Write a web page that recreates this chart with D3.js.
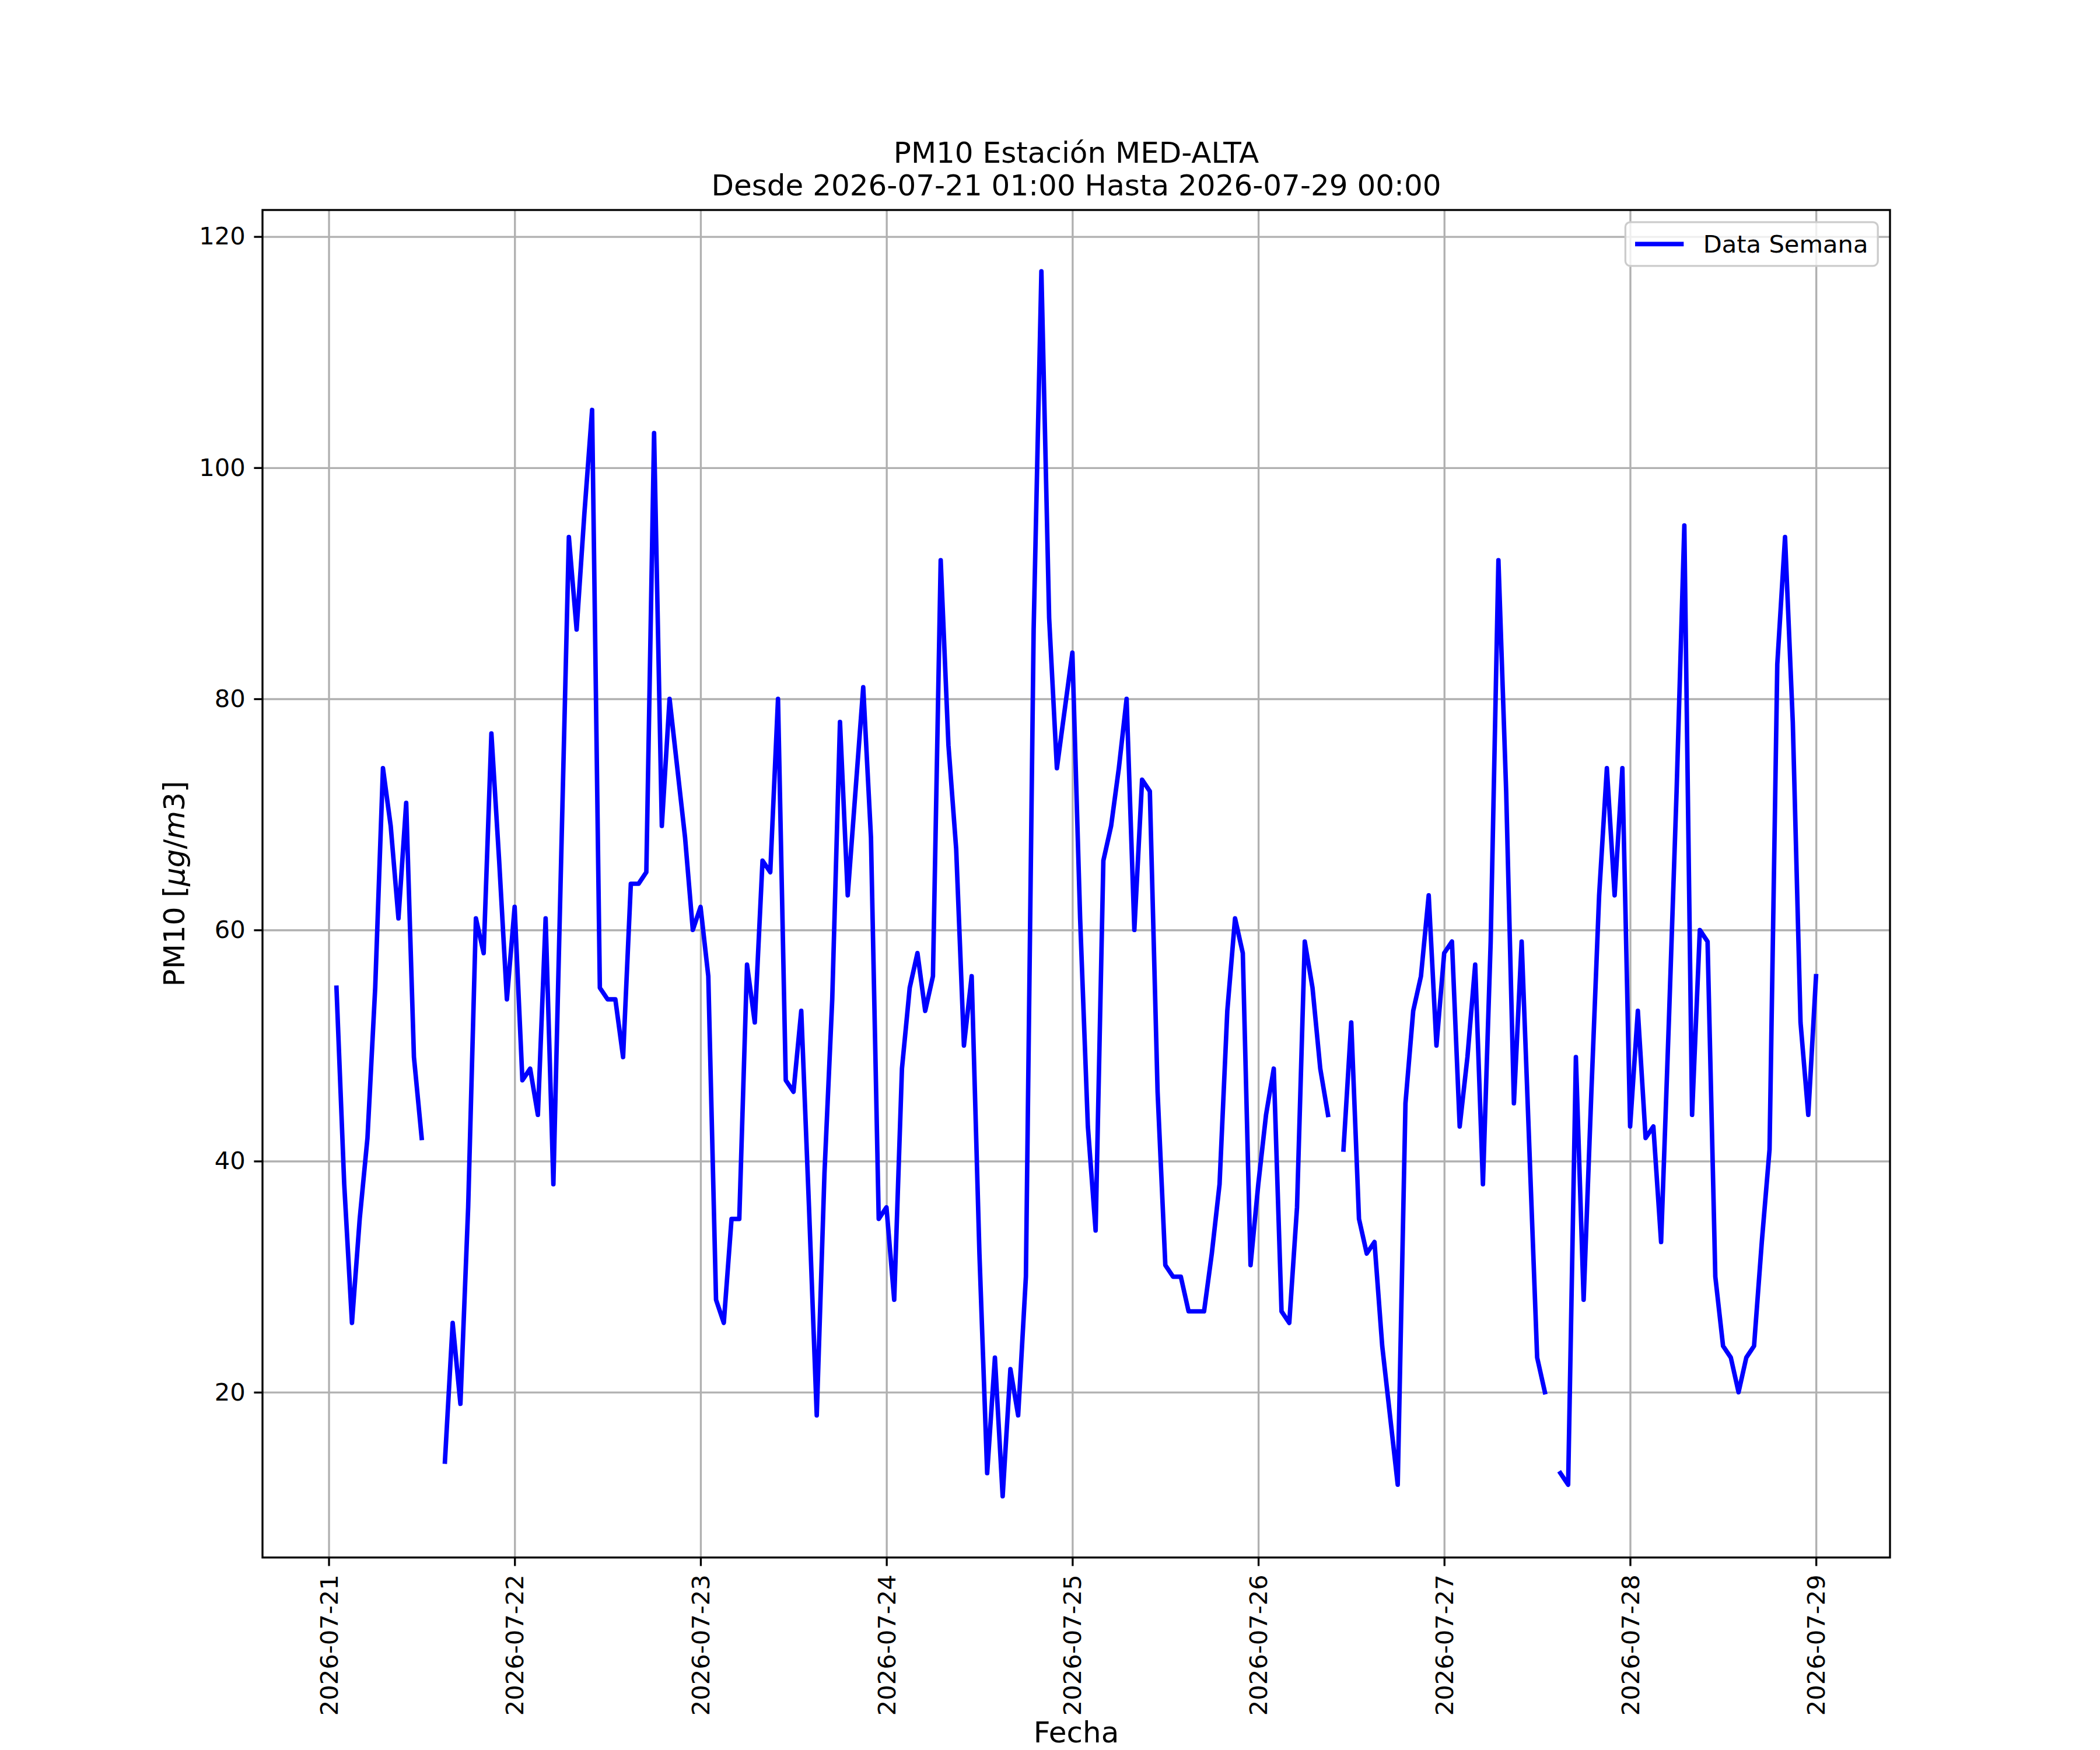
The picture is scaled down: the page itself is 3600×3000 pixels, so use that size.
<!DOCTYPE html>
<html>
<head>
<meta charset="utf-8">
<script src="https://cdn.jsdelivr.net/npm/d3@7"></script>
<style>
body { margin: 0; background: #fff; }
svg text { font-family: 'DejaVu Sans', sans-serif; fill: #000; }
</style>
</head>
<body>
<script>
// hourly PM10, one array per day from 01:00 to 24:00 (null = missing hour)
const firstHour = '2026-07-21T01:00:00Z';
const pm21 = [55, 38, 26, 35, 42, 55, 74, 69, 61, 71, 49, 42, null, null, 14, 26, 19, 36, 61, 58, 77, 66, 54, 62];
const pm22 = [47, 48, 44, 61, 38, 66, 94, 86, 96, 105, 55, 54, 54, 49, 64, 64, 65, 103, 69, 80, 74, 68, 60, 62];
const pm23 = [56, 28, 26, 35, 35, 57, 52, 66, 65, 80, 47, 46, 53, 36, 18, 39, 54, 78, 63, 72, 81, 68, 35, 36];
const pm24 = [28, 48, 55, 58, 53, 56, 92, 76, 67, 50, 56, 32, 13, 23, 11, 22, 18, 30, 86, 117, 87, 74, 79, 84];
const pm25 = [61, 43, 34, 66, 69, 74, 80, 60, 73, 72, 46, 31, 30, 30, 27, 27, 27, 32, 38, 53, 61, 58, 31, 38];
const pm26 = [44, 48, 27, 26, 36, 59, 55, 48, 44, null, 41, 52, 35, 32, 33, 24, 18, 12, 45, 53, 56, 63, 50, 58];
const pm27 = [59, 43, 49, 57, 38, 59, 92, 72, 45, 59, 41, 23, 20, null, 13, 12, 49, 28, 46, 63, 74, 63, 74, 43];
const pm28 = [53, 42, 43, 33, 52, 72, 95, 44, 60, 59, 30, 24, 23, 20, 23, 24, 33, 41, 83, 94, 78, 52, 44, 56];

const dayTicks = ['2026-07-21', '2026-07-22', '2026-07-23', '2026-07-24', '2026-07-25',
                  '2026-07-26', '2026-07-27', '2026-07-28', '2026-07-29'];
const yTicks = [20, 40, 60, 80, 100, 120];
const seriesName = 'Data Semana';
const titleLines = ['PM10 Estación MED-ALTA', 'Desde 2026-07-21 01:00 Hasta 2026-07-29 00:00'];

const W = 3600, H = 3000;
const margin = { top: 360, right: 360, bottom: 330, left: 450 };
const width = W - margin.left - margin.right;
const height = H - margin.top - margin.bottom;
const pt = 300 / 72;          // figure was saved at 300 dpi
const fs = 10 * pt, fsBig = 12 * pt;

const values = [].concat(pm21, pm22, pm23, pm24, pm25, pm26, pm27, pm28);
const t0 = new Date(firstHour);
const data = values.map((v, i) => ({ t: d3.utcHour.offset(t0, i), v: v }));

// matplotlib style 5% margins
const tExt = d3.extent(data, d => d.t);
const tPad = (tExt[1] - tExt[0]) * 0.05;
const x = d3.scaleUtc()
    .domain([new Date(+tExt[0] - tPad), new Date(+tExt[1] + tPad)])
    .range([0, width]);

const vExt = d3.extent(values.filter(v => v != null));
const vPad = (vExt[1] - vExt[0]) * 0.05;
const y = d3.scaleLinear()
    .domain([vExt[0] - vPad, vExt[1] + vPad])
    .range([height, 0]);

const parseDay = d3.utcParse('%Y-%m-%d');
const xTicks = dayTicks.map(parseDay);

const svg = d3.select('body').append('svg')
    .attr('width', W)
    .attr('height', H);

svg.append('rect').attr('width', W).attr('height', H).attr('fill', '#fff');

const g = svg.append('g')
    .attr('transform', `translate(${margin.left}, ${margin.top})`);

// gridlines
g.append('g')
    .attr('class', 'grid')
    .attr('transform', `translate(0, ${height})`)
    .call(d3.axisBottom(x).tickValues(xTicks).tickSize(-height).tickFormat(''))
    .call(s => s.select('.domain').remove())
    .selectAll('line')
    .attr('stroke', '#b0b0b0')
    .attr('stroke-width', 0.8 * pt);

g.append('g')
    .attr('class', 'grid')
    .call(d3.axisLeft(y).tickValues(yTicks).tickSize(-width).tickFormat(''))
    .call(s => s.select('.domain').remove())
    .selectAll('line')
    .attr('stroke', '#b0b0b0')
    .attr('stroke-width', 0.8 * pt);

// the series, broken where hours are missing
const line = d3.line()
    .defined(d => d.v != null)
    .x(d => x(d.t))
    .y(d => y(d.v));

g.append('path')
    .datum(data)
    .attr('fill', 'none')
    .attr('stroke', '#0000ff')
    .attr('stroke-width', 1.85 * pt)
    .attr('stroke-linejoin', 'round')
    .attr('stroke-linecap', 'square')
    .attr('d', line);

// axes
const xAxis = g.append('g')
    .attr('transform', `translate(0, ${height})`)
    .call(d3.axisBottom(x).tickValues(xTicks).tickSize(3.5 * pt).tickSizeOuter(0)
        .tickFormat(d3.utcFormat('%Y-%m-%d')));
xAxis.select('.domain').remove();
xAxis.selectAll('line').attr('stroke', '#000').attr('stroke-width', 0.8 * pt);
xAxis.selectAll('text')
    .attr('font-size', fs)
    .attr('transform', 'rotate(-90)')
    .attr('text-anchor', 'end')
    .attr('x', -7 * pt)
    .attr('y', 0)
    .attr('dy', '0.35em');

const yAxis = g.append('g')
    .call(d3.axisLeft(y).tickValues(yTicks).tickSize(3.5 * pt).tickPadding(3.5 * pt).tickSizeOuter(0));
yAxis.select('.domain').remove();
yAxis.selectAll('line').attr('stroke', '#000').attr('stroke-width', 0.8 * pt);
yAxis.selectAll('text').attr('font-size', fs);

// frame
g.append('rect')
    .attr('width', width)
    .attr('height', height)
    .attr('fill', 'none')
    .attr('stroke', '#000')
    .attr('stroke-width', 0.8 * pt);

// title
const title = svg.append('text')
    .attr('text-anchor', 'middle')
    .attr('font-size', fsBig);
titleLines.forEach((t, i) => {
    title.append('tspan')
        .attr('x', margin.left + width / 2)
        .attr('y', margin.top - 25 - (titleLines.length - 1 - i) * 56)
        .text(t);
});

// axis labels
svg.append('text')
    .attr('x', margin.left + width / 2)
    .attr('y', H - 13)
    .attr('text-anchor', 'middle')
    .attr('font-size', fsBig)
    .text('Fecha');

const yLabel = svg.append('text')
    .attr('transform', `translate(316, ${margin.top + height / 2}) rotate(-90)`)
    .attr('text-anchor', 'middle')
    .attr('font-size', fsBig);
yLabel.append('tspan').text('PM10 [');
yLabel.append('tspan').attr('font-style', 'italic').text('μg');
yLabel.append('tspan').text('/');
yLabel.append('tspan').attr('font-style', 'italic').text('m');
yLabel.append('tspan').text('3]');

// legend, upper right
const legend = g.append('g');
const legendBox = legend.append('rect');
const legendText = legend.append('text')
    .attr('font-size', fs)
    .text(seriesName);
const tw = legendText.node().getComputedTextLength();
const lw = (0.4 + 2 + 0.8 + 0.4) * fs + tw;
const lh = 1.8 * fs;
const lx = width - 0.5 * fs - lw, ly = 0.5 * fs;
legend.attr('transform', `translate(${lx}, ${ly})`);
legendBox
    .attr('width', lw)
    .attr('height', lh)
    .attr('rx', 0.2 * fs)
    .attr('fill', '#fff')
    .attr('fill-opacity', 0.8)
    .attr('stroke', '#cccccc')
    .attr('stroke-width', 0.8 * pt);
legend.append('line')
    .attr('x1', 0.4 * fs)
    .attr('x2', 2.4 * fs)
    .attr('y1', lh / 2)
    .attr('y2', lh / 2)
    .attr('stroke', '#0000ff')
    .attr('stroke-width', 1.85 * pt);
legendText
    .attr('x', 3.2 * fs)
    .attr('y', lh / 2)
    .attr('dy', '0.35em');
</script>
</body>
</html>
